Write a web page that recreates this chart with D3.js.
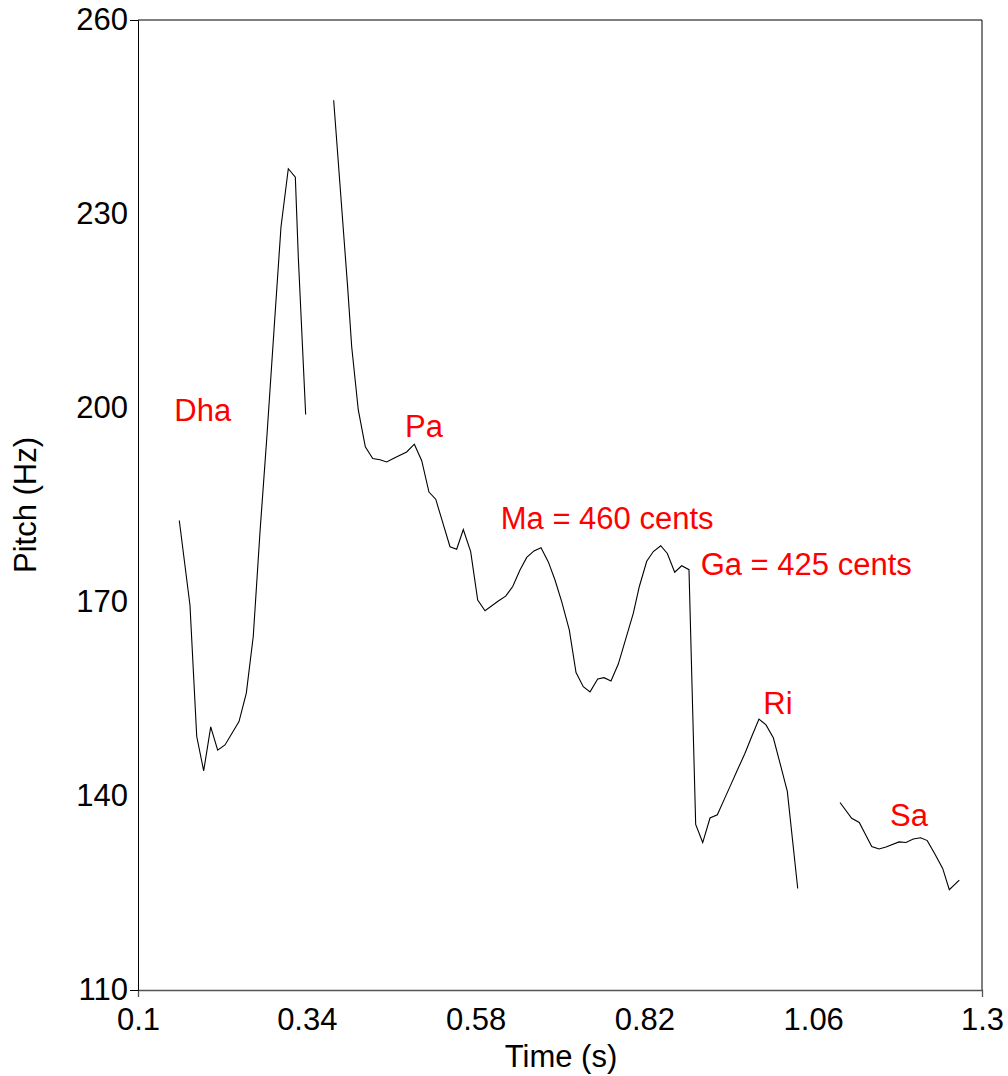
<!DOCTYPE html>
<html>
<head>
<meta charset="utf-8">
<script src="https://cdn.jsdelivr.net/npm/d3@7"></script>
<style>
  html, body { margin: 0; padding: 0; background: #fff; }
  svg { display: block; }
  text { font-family: "Liberation Sans", Arial, sans-serif; }
</style>
</head>
<body>
<svg id="chart" width="1008" height="1076"></svg>
<script>
// ---- Data (time in s, pitch in Hz) ----
const xTicks = [0.1, 0.34, 0.58, 0.82, 1.06, 1.3];
const yTicks = [110, 140, 170, 200, 230, 260];
const xLabel = "Time (s)";
const yLabel = "Pitch (Hz)";

const segment1 = [
  [0.1587, 182.6], [0.1739, 169.5], [0.1835, 149.2], [0.1934, 143.9], [0.2034, 150.7],
  [0.2133, 147.1], [0.2237, 147.9], [0.2436, 151.5], [0.2540, 155.9], [0.2639, 164.7],
  [0.2735, 180.9], [0.2830, 195.2], [0.2934, 212.1], [0.3033, 228.0], [0.3137, 237.0],
  [0.3237, 235.7], [0.3279, 223.4], [0.3384, 199.0]
];
const segment2 = [
  [0.3782, 247.6], [0.3982, 218.5], [0.4038, 209.5], [0.4132, 199.7], [0.4232, 194.0],
  [0.4337, 192.2], [0.4441, 192.0], [0.4536, 191.65], [0.4630, 192.2], [0.4725, 192.7],
  [0.4820, 193.2], [0.4929, 194.4], [0.5034, 191.85], [0.5137, 187.0], [0.5233, 185.9],
  [0.5332, 182.3], [0.5436, 178.55], [0.5531, 178.15], [0.5625, 181.2], [0.5730, 177.8],
  [0.5830, 170.3], [0.5934, 168.65], [0.6128, 170.2], [0.6228, 170.9], [0.6328, 172.4],
  [0.6431, 174.95], [0.6527, 176.9], [0.6630, 177.9], [0.6730, 178.4], [0.6834, 176.2],
  [0.6929, 173.4], [0.7024, 170.05], [0.7132, 165.7], [0.7228, 159.1], [0.7331, 156.9],
  [0.7427, 156.1], [0.7536, 158.1], [0.7626, 158.3], [0.7725, 157.8], [0.7829, 160.4],
  [0.7938, 164.4], [0.8042, 168.25], [0.8128, 172.4], [0.8233, 176.3], [0.8327, 177.8],
  [0.8432, 178.7], [0.8526, 177.5], [0.8631, 174.6], [0.8730, 175.6], [0.8834, 175.0],
  [0.8929, 135.6], [0.9029, 132.8], [0.9133, 136.6], [0.9237, 137.1], [0.9332, 139.4],
  [0.9431, 141.8], [0.9530, 144.2], [0.9630, 146.6], [0.9726, 149.2], [0.9829, 151.9],
  [0.9929, 151.0], [1.0033, 149.0], [1.0128, 145.1], [1.0232, 140.7], [1.0380, 125.7]
];
const segment3 = [
  [1.0981, 139.0], [1.1147, 136.55], [1.1255, 135.9], [1.1432, 132.2], [1.1536, 131.8],
  [1.1635, 132.1], [1.1820, 132.9], [1.1919, 132.8], [1.2023, 133.35], [1.2128, 133.55],
  [1.2222, 133.1], [1.2332, 131.0], [1.2441, 128.8], [1.2535, 125.5], [1.2677, 127.0]
];
const segments = [segment1, segment2, segment3];

// note labels: text, time of left edge, pitch at baseline
const noteNames = ["Dha", "Pa", "Ma = 460 cents", "Ga = 425 cents", "Ri", "Sa"];
const noteTimes = [0.1516, 0.4796, 0.6157, 0.9000, 0.9891, 1.1692];
const notePitch = [198.0, 195.5, 181.3, 174.2, 152.7, 135.4];

// ---- Layout ----
const svg = d3.select("#chart");
const margin = { left: 138, right: 1008 - 982, top: 20, bottom: 1076 - 990 };
const W = 1008 - margin.left - margin.right;
const H = 1076 - margin.top - margin.bottom;

const x = d3.scaleLinear().domain([0.1, 1.3]).range([margin.left, margin.left + W]);
const y = d3.scaleLinear().domain([110, 260]).range([margin.top + H, margin.top]);

// frame top and right
svg.append("line")
  .attr("x1", x(0.1)).attr("x2", x(1.3)).attr("y1", y(260)).attr("y2", y(260))
  .attr("stroke", "#555").attr("stroke-width", 1.3);
svg.append("line")
  .attr("x1", x(1.3)).attr("x2", x(1.3)).attr("y1", y(260)).attr("y2", y(110))
  .attr("stroke", "#000").attr("stroke-width", 1);

// axes
const fmtX = d => String(d);
const xAxis = d3.axisBottom(x).tickValues(xTicks).tickFormat(fmtX)
  .tickSizeInner(0).tickSizeOuter(7).tickPadding(18);
const gx = svg.append("g").attr("transform", `translate(0,${y(110)})`).call(xAxis);
gx.select(".domain").attr("stroke", "#555").attr("stroke-width", 1.3);
gx.selectAll("text").attr("font-size", 31).attr("fill", "#000")
  .attr("font-family", "Liberation Sans, Arial, sans-serif");

const yAxis = d3.axisLeft(y).tickValues(yTicks).tickFormat(d3.format("d"))
  .tickSizeInner(0).tickSizeOuter(8).tickPadding(10);
const gy = svg.append("g").attr("transform", `translate(${x(0.1)},0)`).call(yAxis);
gy.select(".domain").attr("stroke", "#000").attr("stroke-width", 1);
gy.selectAll("text").attr("font-size", 31).attr("fill", "#000")
  .attr("font-family", "Liberation Sans, Arial, sans-serif");

// axis titles
svg.append("text")
  .attr("x", (x(0.1) + x(1.3)) / 2 + 1).attr("y", 1067)
  .attr("text-anchor", "middle").attr("font-size", 31).attr("fill", "#000")
  .text(xLabel);
svg.append("text")
  .attr("transform", `translate(36,${(y(110) + y(260)) / 2}) rotate(-90)`)
  .attr("text-anchor", "middle").attr("font-size", 31).attr("fill", "#000")
  .text(yLabel);

// pitch contour
const line = d3.line().x(d => x(d[0])).y(d => y(d[1]));
svg.append("g").selectAll("path").data(segments).join("path")
  .attr("d", line)
  .attr("fill", "none").attr("stroke", "#000").attr("stroke-width", 1.1)
  .attr("stroke-linejoin", "miter");

// note labels
svg.append("g").selectAll("text").data(noteNames).join("text")
  .attr("x", (d, i) => x(noteTimes[i]))
  .attr("y", (d, i) => y(notePitch[i]))
  .attr("font-size", 31).attr("fill", "#ff0000")
  .text(d => d);
</script>
</body>
</html>
